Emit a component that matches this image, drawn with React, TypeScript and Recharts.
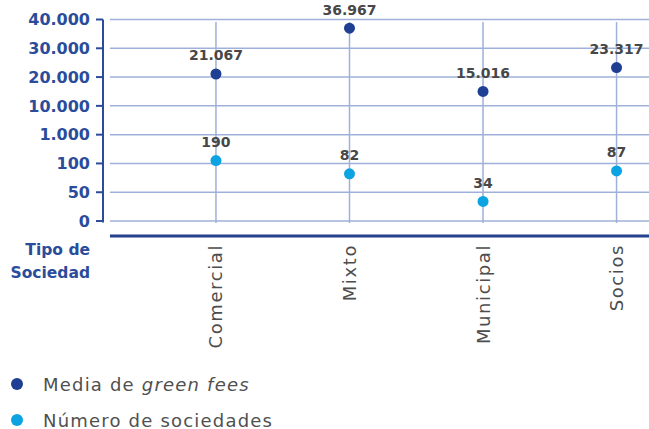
import React from "react";
import {
  ComposedChart,
  Scatter,
  XAxis,
  YAxis,
  ReferenceLine,
  LabelList,
} from "recharts";

const categories = ["Comercial", "Mixto", "Municipal", "Socios"];
const mediaGreenFees = [21067, 36967, 15016, 23317];
const numeroSociedades = [190, 82, 34, 87];
const yTickValues = [0, 50, 100, 1000, 10000, 20000, 30000, 40000];
const yTickLabels = ["0", "50", "100", "1.000", "10.000", "20.000", "30.000", "40.000"];

const DARK = "#1f3f93";
const LIGHT = "#0ba3e2";
const AXIS = "#2b4c9b";
const GRID = "#9fb1d9";
const FONT = "'DejaVu Sans', sans-serif";

// place a value on the chart's segmented (equal-spaced tick) scale
const toIndex = (v: number) => {
  for (let i = 1; i < yTickValues.length; i++) {
    const a = yTickValues[i - 1];
    const b = yTickValues[i];
    if (v <= b) return i - 1 + (v - a) / (b - a);
  }
  return yTickValues.length - 1;
};

const fmt = (v: number) => String(v).replace(/\B(?=(\d{3})+(?!\d))/g, ".");

const feesData = categories.map((c, i) => ({ idx: i, cat: c, raw: mediaGreenFees[i], y: toIndex(mediaGreenFees[i]) }));
const socData = categories.map((c, i) => ({ idx: i, cat: c, raw: numeroSociedades[i], y: toIndex(numeroSociedades[i]) }));

const X_MIN = -0.846;
const X_MAX = 3.243;
const GRID_X0 = -0.794;
const Y_MIN = -0.52;
const Y_MAX = 7;

const dot = (color: string) => (p: any) => <circle cx={p.cx} cy={p.cy} r={5.5} fill={color} />;

const CatTick = (p: any) => {
  const { x, y, payload } = p;
  return (
    <text
      transform={`translate(${x},${y}) rotate(-90)`}
      textAnchor="end"
      dominantBaseline="central"
      fontFamily={FONT}
      fontSize={18}
      letterSpacing={1.6}
      fill="#4d4d4d"
    >
      {categories[payload.value]}
    </text>
  );
};

const AxisTitle = (p: any) => {
  const vb = p.viewBox || {};
  const x = (vb.x ?? 103) - 13;
  const y = vb.y ?? 236;
  return (
    <text fontFamily={FONT} fontSize={15.5} fontWeight="bold" fill={AXIS} textAnchor="end">
      <tspan x={x} y={y + 19}>Tipo de</tspan>
      <tspan x={x} y={y + 42}>Sociedad</tspan>
    </text>
  );
};

export default function App() {
  return (
    <div style={{ position: "absolute", left: 0, top: 0, width: 649, height: 429, background: "#fff" }}>
      <ComposedChart width={649} height={429} margin={{ top: 19.5, right: 0, bottom: 0, left: 0 }}>
        <XAxis
          type="number"
          dataKey="idx"
          domain={[X_MIN, X_MAX]}
          ticks={[0, 1, 2, 3]}
          allowDataOverflow
          axisLine={false}
          tickLine={false}
          height={193}
          tick={<CatTick />}
          interval={0}
          label={<AxisTitle />}
        />
        <YAxis
          type="number"
          dataKey="y"
          domain={[Y_MIN, Y_MAX]}
          ticks={[0, 1, 2, 3, 4, 5, 6, 7]}
          allowDataOverflow
          width={103}
          axisLine={false}
          tickLine={{ stroke: AXIS, strokeWidth: 2 }}
          tickSize={7}
          tickMargin={6}
          tickFormatter={(v: number) => yTickLabels[v]}
          tick={{ fontFamily: FONT, fontSize: 16, fontWeight: "bold", fill: AXIS }}
          interval={0}
        />
        {yTickLabels.map((_, i) => (
          <ReferenceLine
            key={"h" + i}
            segment={[{ x: GRID_X0, y: i }, { x: X_MAX, y: i }]}
            stroke={GRID}
            strokeWidth={1.5}
            ifOverflow="visible"
          />
        ))}
        {categories.map((_, i) => (
          <ReferenceLine
            key={"v" + i}
            segment={[{ x: i, y: -0.07 }, { x: i, y: 6.91 }]}
            stroke={GRID}
            strokeWidth={1.5}
            ifOverflow="visible"
          />
        ))}
        <ReferenceLine
          segment={[{ x: X_MIN, y: -0.05 }, { x: X_MIN, y: Y_MAX }]}
          stroke={AXIS}
          strokeWidth={2}
          ifOverflow="visible"
        />
        <ReferenceLine
          segment={[{ x: GRID_X0, y: Y_MIN }, { x: X_MAX, y: Y_MIN }]}
          stroke="#24418f"
          strokeWidth={3}
          ifOverflow="visible"
        />
        <Scatter name="Media de green fees" data={feesData} dataKey="y" shape={dot(DARK)} isAnimationActive={false}>
          <LabelList
            dataKey="raw"
            position="top"
            offset={9}
            formatter={(v: number) => fmt(v)}
            style={{ fontFamily: FONT, fontSize: 14, fontWeight: "bold", fill: "#474747" }}
          />
        </Scatter>
        <Scatter name="Número de sociedades" data={socData} dataKey="y" shape={dot(LIGHT)} isAnimationActive={false}>
          <LabelList
            dataKey="raw"
            position="top"
            offset={9}
            formatter={(v: number) => fmt(v)}
            style={{ fontFamily: FONT, fontSize: 14, fontWeight: "bold", fill: "#474747" }}
          />
        </Scatter>
      </ComposedChart>
      <div style={{ position: "absolute", left: 11, top: 371, fontFamily: FONT, fontSize: 18, letterSpacing: 1.2, color: "#505050" }}>
        <div style={{ display: "flex", alignItems: "center", height: 26 }}>
          <span style={{ width: 12, height: 12, borderRadius: 6, background: DARK, display: "inline-block", marginRight: 20 }} />
          <span>
            Media de <i>green fees</i>
          </span>
        </div>
        <div style={{ display: "flex", alignItems: "center", height: 26, marginTop: 10 }}>
          <span style={{ width: 12, height: 12, borderRadius: 6, background: LIGHT, display: "inline-block", marginRight: 20 }} />
          <span>Número de sociedades</span>
        </div>
      </div>
    </div>
  );
}
